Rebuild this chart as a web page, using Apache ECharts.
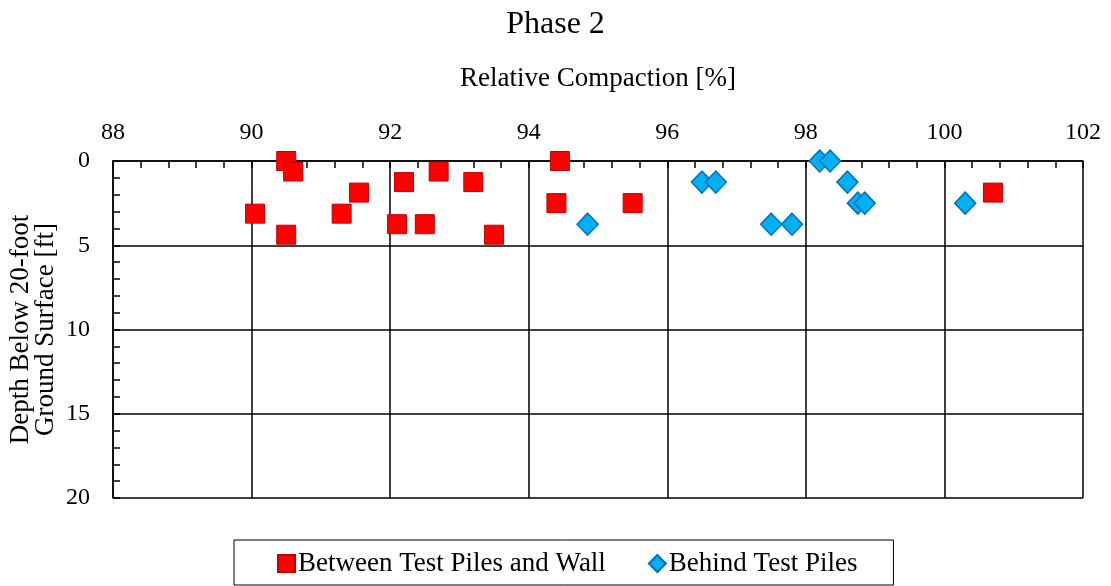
<!DOCTYPE html>
<html><head><meta charset="utf-8">
<script src="https://cdn.jsdelivr.net/npm/echarts@6/dist/echarts.min.js"></script>
<style>html,body{margin:0;padding:0;background:#fff}#c{width:1111px;height:586px}</style>
</head><body><div id="c"></div>
<script>
var seriesNames = ['Between Test Piles and Wall', 'Behind Test Piles'];
var betweenCompaction = [90.5, 90.6, 90.05, 90.5, 91.55, 91.3, 92.2, 92.1, 92.5, 92.7, 93.2, 93.5, 94.45, 94.4, 95.5, 100.7];
var betweenDepth      = [0, 0.625, 3.125, 4.375, 1.875, 3.125, 1.25, 3.75, 3.75, 0.625, 1.25, 4.375, 0, 2.5, 2.5, 1.875];
var behindCompaction  = [94.85, 96.5, 96.7, 97.5, 97.8, 98.2, 98.35, 98.6, 98.75, 98.85, 100.3];
var behindDepth       = [3.75, 1.25, 1.25, 3.75, 3.75, 0, 0, 1.25, 2.5, 2.5, 2.5];

function pairs(xs, ys){ return xs.map(function(x,i){ return [x, ys[i]]; }); }
var F = 'Liberation Serif, Times New Roman, serif';
var chart = echarts.init(document.getElementById('c'));
chart.setOption({
  animation: false,
  title: { text: 'Phase 2', left: 'center', top: 7, padding: 0, textStyle: { fontFamily: F, fontSize: 32, fontWeight: 'normal', color: '#000', lineHeight: 36 } },
  grid: { left: 113, right: 28, top: 161, bottom: 88, containLabel: false, outerBoundsMode: 'none' },
  xAxis: {
    type: 'value', position: 'top', min: 88, max: 102, interval: 2,
    name: 'Relative Compaction [%]', nameLocation: 'middle', nameGap: 69,
    nameTextStyle: { fontFamily: F, fontSize: 27, color: '#000' },
    axisLine: { show: true, lineStyle: { color: '#000', width: 1.5 } },
    axisTick: { show: true, inside: true, length: 7, lineStyle: { color: '#000', width: 1.5 } },
    minorTick: { show: true, splitNumber: 5, length: 7, lineStyle: { color: '#000', width: 1.5 } },
    axisLabel: { fontFamily: F, fontSize: 24, color: '#000', margin: 16 },
    splitLine: { show: true, lineStyle: { color: '#000', width: 1.5 } }
  },
  yAxis: {
    type: 'value', inverse: true, min: 0, max: 20, interval: 5,
    name: 'Depth Below 20-foot\nGround Surface [ft]', nameLocation: 'middle', nameGap: 55, nameRotate: 90,
    nameMoveOverlap: false,
    nameTextStyle: { fontFamily: F, fontSize: 27, color: '#000', lineHeight: 25 },
    axisLine: { show: true, lineStyle: { color: '#000', width: 1.5 } },
    axisTick: { show: true, inside: true, length: 7, lineStyle: { color: '#000', width: 1.5 } },
    minorTick: { show: true, splitNumber: 5, length: 7, lineStyle: { color: '#000', width: 1.5 } },
    axisLabel: { fontFamily: F, fontSize: 24, color: '#000', margin: 23 },
    splitLine: { show: true, lineStyle: { color: '#000', width: 1.5 } }
  },
  legend: {
    left: 234, top: 540,
    padding: [10, 36, 8, 43], itemGap: 42, itemWidth: 17, itemHeight: 17,
    borderColor: '#000', borderWidth: 1,
    textStyle: { fontFamily: F, fontSize: 27, color: '#000', lineHeight: 27, padding: [0, 0, 0, -2] },
    data: [{ name: seriesNames[0], icon: 'rect' }, { name: seriesNames[1], icon: 'diamond' }]
  },
  series: [
    { name: seriesNames[0], type: 'scatter', symbol: 'rect', symbolSize: 19,
      itemStyle: { color: '#FF0000', borderColor: '#C00000', borderWidth: 1, opacity: 1 },
      data: pairs(betweenCompaction, betweenDepth), z: 3 },
    { name: seriesNames[1], type: 'scatter', symbol: 'diamond', symbolSize: [21, 22],
      itemStyle: { color: '#00B0F0', borderColor: '#0070C0', borderWidth: 1.5, opacity: 1 },
      data: pairs(behindCompaction, behindDepth), z: 3 }
  ]
});
</script></body></html>
